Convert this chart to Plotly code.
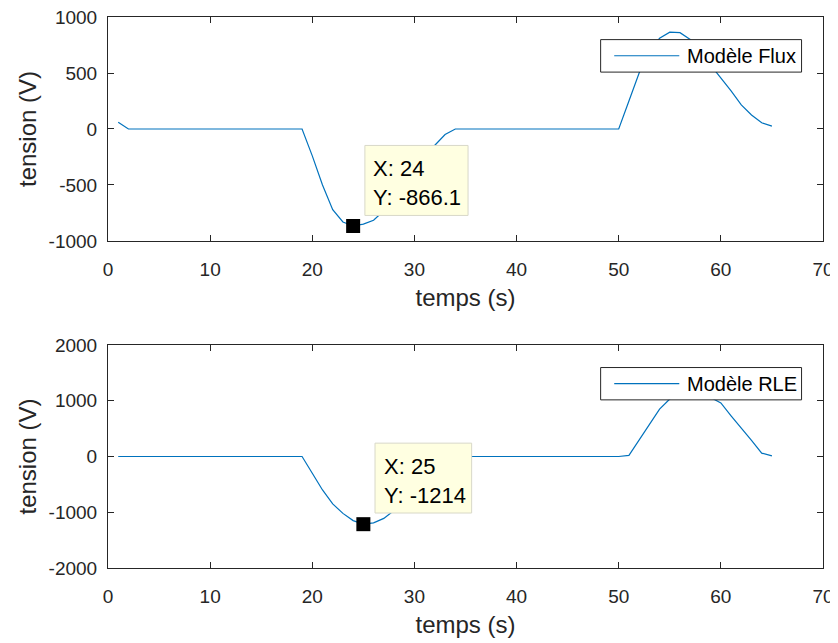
import plotly.graph_objects as go
from plotly.subplots import make_subplots

temps = [1, 2, 3, 4, 5, 6, 7, 8, 9, 10,
         11, 12, 13, 14, 15, 16, 17, 18, 19, 20,
         21, 22, 23, 24, 25, 26, 27, 28, 29, 30,
         31, 32, 33, 34, 35, 36, 37, 38, 39, 40,
         41, 42, 43, 44, 45, 46, 47, 48, 49, 50,
         51, 52, 53, 54, 55, 56, 57, 58, 59, 60,
         61, 62, 63, 64, 65]

tension_flux = [60, 0, 0, 0, 0, 0, 0, 0, 0, 0,
                0, 0, 0, 0, 0, 0, 0, 0, 0, -240,
                -500, -720, -830, -866.1, -850, -815, -730, -620, -500, -380,
                -260, -145, -50, 0, 0, 0, 0, 0, 0, 0,
                0, 0, 0, 0, 0, 0, 0, 0, 0, 0,
                250, 500, 690, 810, 865, 860, 800, 700, 570, 460,
                340, 215, 125, 55, 25]

tension_rle = [0, 0, 0, 0, 0, 0, 0, 0, 0, 0,
               0, 0, 0, 0, 0, 0, 0, 0, 0, -300,
               -600, -850, -1020, -1150, -1214, -1190, -1110, -970, -790, -590,
               -400, -230, -100, -25, 0, 0, 0, 0, 0, 0,
               0, 0, 0, 0, 0, 0, 0, 0, 0, 0,
               20, 300, 590, 850, 1030, 1150, 1200, 1170, 1060, 960,
               730, 520, 290, 60, 10]

noms = ["Modèle Flux", "Modèle RLE"]
x_ticks = [0, 10, 20, 30, 40, 50, 60, 70]
y_ticks_flux = [-1000, -500, 0, 500, 1000]
y_ticks_rle = [-2000, -1000, 0, 1000, 2000]
tip_index = [23, 24]  # points marqués (X: 24 et X: 25)

BLEU = "#0072BD"
GRIS = "#262626"
POLICE = "Liberation Sans, Arial, sans-serif"

fig = make_subplots(rows=2, cols=1)

series = [tension_flux, tension_rle]
for i, vals in enumerate(series):
    row = i + 1
    fig.add_trace(go.Scatter(x=temps, y=vals, mode="lines", name=noms[i],
                             line=dict(color=BLEU, width=1.2), showlegend=False),
                  row=row, col=1)
    k = tip_index[i]
    fig.add_trace(go.Scatter(x=[temps[k]], y=[vals[k]], mode="markers",
                             marker=dict(symbol="square", size=14, color="black",
                                         line=dict(width=0)),
                             showlegend=False, hoverinfo="skip"),
                  row=row, col=1)

axis_style = dict(showline=True, linecolor=GRIS, linewidth=1, mirror="ticks",
                  ticks="inside", ticklen=6, tickcolor=GRIS, showgrid=False,
                  zeroline=False, automargin=False, ticklabeloverflow="allow",
                  tickfont=dict(family=POLICE, size=19, color=GRIS))

# tirets ASCII comme dans MATLAB (plotly mettrait un signe moins typographique)
def etiquettes(vals):
    return [str(v) for v in vals]

fig.update_xaxes(axis_style, range=[0, 70], tickvals=x_ticks, ticktext=etiquettes(x_ticks),
                 title=dict(text="temps (s)", font=dict(family=POLICE, size=24, color=GRIS),
                            standoff=10),
                 ticklabelstandoff=11)
fig.update_yaxes(axis_style,
                 title=dict(text="tension (V)", font=dict(family=POLICE, size=24, color=GRIS),
                            standoff=5),
                 ticklabelstandoff=6)
fig.update_yaxes(range=[-1000, 1000], tickvals=y_ticks_flux, ticktext=etiquettes(y_ticks_flux),
                 row=1, col=1)
fig.update_yaxes(range=[-2000, 2000], tickvals=y_ticks_rle, ticktext=etiquettes(y_ticks_rle),
                 row=2, col=1)

# la page ajoute ~8 px de marge autour de la figure : on compense
fig.update_layout(
    width=830, height=635,
    margin=dict(l=100, r=15, t=9, b=75),
    plot_bgcolor="white", paper_bgcolor="white",
    xaxis=dict(domain=[0, 1]), xaxis2=dict(domain=[0, 1]),
    yaxis=dict(domain=[0.5935, 1]), yaxis2=dict(domain=[0, 0.4047]),
)

# bulles de données (datatips)
bulles = [
    dict(xr="x", yr="y", box=(25.15, 35.25, -772, -147), txt=(25.7, -480)),
    dict(xr="x2", yr="y2", box=(26.14, 35.6, -1014, 240), txt=(26.8, -439)),
]
for i, b in enumerate(bulles):
    k = tip_index[i]
    x0, x1, y0, y1 = b["box"]
    fig.add_shape(type="rect", xref=b["xr"], yref=b["yr"], x0=x0, x1=x1, y0=y0, y1=y1,
                  fillcolor="#FFFFE1", line=dict(color="#D8D8C8", width=1), layer="above")
    val = series[i][k]
    fig.add_annotation(xref=b["xr"], yref=b["yr"], x=b["txt"][0], y=b["txt"][1],
                       xanchor="left", yanchor="middle", align="left", showarrow=False,
                       text="X: %g<br>Y: %g" % (temps[k], val),
                       font=dict(family=POLICE, size=22, color="black"))

# légendes dessinées à la main (style MATLAB)
for i, ax in enumerate(["", "2"]):
    xr = "x%s domain" % ax
    yr = "y%s domain" % ax
    fig.add_shape(type="rect", xref=xr, yref=yr, x0=0.689, x1=0.970, y0=0.754, y1=0.899,
                  fillcolor="white", line=dict(color=GRIS, width=1), layer="above")
    fig.add_shape(type="line", xref=xr, yref=yr, x0=0.708, x1=0.799, y0=0.827, y1=0.827,
                  line=dict(color=BLEU, width=1.2), layer="above")
    fig.add_annotation(xref=xr, yref=yr, x=0.807, y=0.827, xanchor="left", yanchor="middle",
                       showarrow=False, text=noms[i],
                       font=dict(family=POLICE, size=20, color="black"))

fig.write_html("out.html")
